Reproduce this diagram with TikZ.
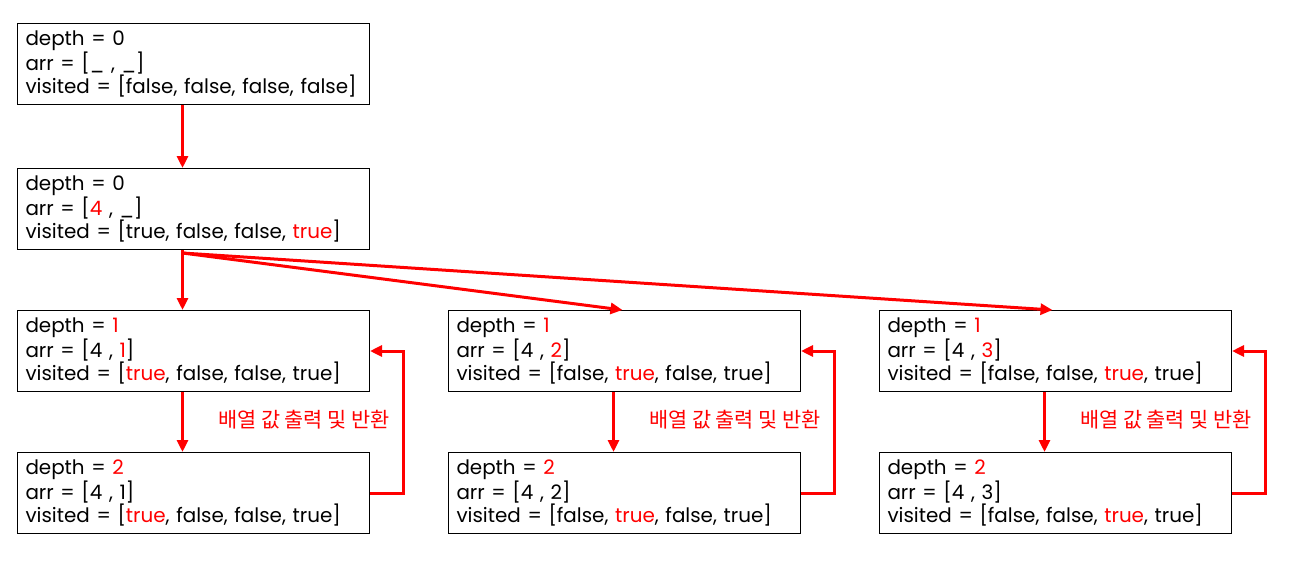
\documentclass[tikz,border=0pt]{standalone}
\usepackage{fontspec}
\setmainfont{Poppins}
\newfontfamily\kr{Noto Sans CJK KR}
\usetikzlibrary{arrows.meta,calc}
\definecolor{rd}{RGB}{255,0,0}
\newcommand{\R}[1]{\textcolor{rd}{#1}}
\begin{document}
\begin{tikzpicture}[x=1pt,y=-1pt,
  box/.style={draw=black, line width=1pt, anchor=north west, minimum width=352pt, minimum height=81pt,
    text width=336pt, inner xsep=8pt, inner ysep=0pt, align=left,
    font=\fontsize{19.9}{23}\selectfont},
  arr/.style={draw=rd, line width=3pt, -{Triangle[length=12pt,width=11pt]}},
  lbl/.style={text=rd, font=\kr\fontsize{20.8}{22}\selectfont}]
\useasboundingbox (0,0) rectangle (1298,578);
\node[box] (a) at (17,23) {depth = 0\\arr = [\_ , \_]\\visited = [false, false, false, false]};
\node[box] (b) at (17,168) {depth = 0\\arr = [\R{4} , \_]\\visited = [true, false, false, \R{true}]};
\node[box] (c1) at (17,310) {depth = \R{1}\\arr = [4 , \R{1}]\\visited = [\R{true}, false, false, true]};
\node[box] (c2) at (448,310) {depth = \R{1}\\arr = [4 , \R{2}]\\visited = [false, \R{true}, false, true]};
\node[box] (c3) at (879,310) {depth = \R{1}\\arr = [4 , \R{3}]\\visited = [false, false, \R{true}, true]};
\node[box] (d1) at (17,452) {depth = \R{2}\\arr = [4 , 1]\\visited = [\R{true}, false, false, true]};
\node[box] (d2) at (448,452) {depth = \R{2}\\arr = [4 , 2]\\visited = [false, \R{true}, false, true]};
\node[box] (d3) at (879,452) {depth = \R{2}\\arr = [4 , 3]\\visited = [false, false, \R{true}, true]};
\coordinate (bs) at ($(b.south)+(-11,0)$);
\draw[arr] ($(a.south)+(-11,0)$) -- ($(b.north)+(-11,0)$);
\draw[arr] (bs) -- ($(c1.north)+(-11,0)$);
\draw[arr] ($(bs)+(0,3)$) -- ($(c2.north)+(-2,0)$);
\draw[arr] ($(bs)+(0,3)$) -- ($(c3.north)+(-3,0)$);
\draw[arr] ($(c1.south)+(-11,0)$) -- ($(d1.north)+(-11,0)$);
\draw[arr] ($(c2.south)+(-11,0)$) -- ($(d2.north)+(-11,0)$);
\draw[arr] ($(c3.south)+(-11,0)$) -- ($(d3.north)+(-11,0)$);
\draw[arr] (d1.east) -- ++(33,0) |- (c1.east);
\draw[arr] (d2.east) -- ++(33,0) |- (c2.east);
\draw[arr] (d3.east) -- ++(33,0) |- (c3.east);
\node[lbl] (l1) at (304,420) {배열 값 출력 및 반환};
\node[lbl] (l2) at (735,420) {배열 값 출력 및 반환};
\node[lbl] (l3) at (1166,420) {배열 값 출력 및 반환};
\end{tikzpicture}
\end{document}
